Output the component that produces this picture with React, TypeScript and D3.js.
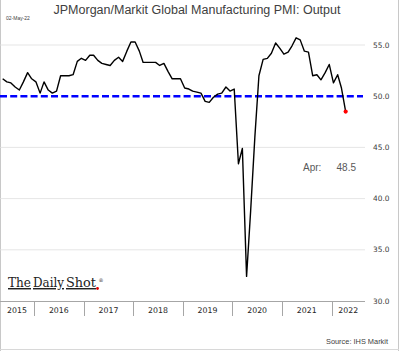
import React from 'react';
import * as d3 from 'd3';

// monthly PMI output readings, May 2015 .. Apr 2022
const startMonth = new Date(2015, 4, 1);
const pmiValues: number[] = [
  // 2015 (May-Dec)
  51.7, 51.4, 51.3, 50.9, 50.6, 51.4, 52.3, 51.7,
  // 2016
  51.4, 50.3, 51.4, 50.6, 50.3, 50.5, 52.0, 52.0, 52.0, 52.1, 53.4, 53.7,
  // 2017
  53.5, 54.0, 54.0, 53.5, 53.2, 53.1, 53.0, 53.5, 53.8, 53.4, 54.4, 55.3,
  // 2018
  55.3, 54.4, 53.3, 53.3, 53.3, 53.3, 53.0, 53.2, 52.4, 51.7, 51.7, 51.7,
  // 2019
  50.8, 50.7, 50.5, 50.4, 50.3, 49.5, 49.4, 49.9, 50.2, 50.3, 50.9, 50.5,
  // 2020
  50.7, 43.4, 44.9, 32.4, 38.8, 46.0, 52.0, 53.6, 53.7, 54.2, 55.2, 54.7,
  // 2021
  54.1, 54.3, 54.9, 55.7, 55.5, 54.4, 54.3, 52.0, 52.1, 51.6, 52.3, 53.1,
  // 2022
  51.3, 52.1, 50.8, 48.5,
];
const yTicks = [30, 35, 40, 45, 50, 55];
const gridTicks = [35, 40, 45, 55];
const years = [2015, 2016, 2017, 2018, 2019, 2020, 2021, 2022];
const threshold = 50;
const lastLabel = 'Apr:';

const W = 399;
const H = 351;
const plotLeft = 0;
const plotRight = 365;

const App: React.FC = () => {
  const months = pmiValues.map((_, i) => d3.timeMonth.offset(startMonth, i));
  const data = months.map((m, i) => ({ date: new Date(m.getFullYear(), m.getMonth(), 15), value: pmiValues[i] }));

  const x = d3.scaleTime()
    .domain([new Date(2016, 0, 1), new Date(2021, 0, 1)])
    .range([34, 282]);
  const y = d3.scaleLinear().domain([30, 55]).range([301, 45]);

  const line = d3.line<{ date: Date; value: number }>()
    .x(d => x(d.date))
    .y(d => y(d.value));

  const last = data[data.length - 1];
  const yearEdges = years.map(yr => Math.max(plotLeft, x(new Date(yr, 0, 1))));
  const yearEnds = years.map(yr => Math.min(plotRight, x(new Date(yr + 1, 0, 1))));

  const grey = '#404040';

  return (
    <div style={{ position: 'absolute', left: 0, top: 0 }}>
      <svg width={W} height={H} style={{ display: 'block', background: '#fff' }}>
        {/* frame */}
        <line x1={0.5} x2={0.5} y1={0} y2={H} stroke="#c8c8c8" />
        <line x1={W - 0.5} x2={W - 0.5} y1={0} y2={H} stroke="#c8c8c8" />
        <line x1={0} x2={W} y1={H - 1.5} y2={H - 1.5} stroke="#d8d8d8" />

        <text x={6} y={19.5} fontFamily="Liberation Sans, sans-serif" fontSize={5} fill={grey}>02-May-22</text>
        <text x={197} y={13.5} textAnchor="middle" fontFamily="Liberation Sans, sans-serif" fontSize={12.5} fill={grey}>
          JPMorgan/Markit Global Manufacturing PMI: Output
        </text>

        {/* gridlines */}
        {gridTicks.map(t => (
          <line key={t} x1={plotLeft} x2={plotRight} y1={y(t)} y2={y(t)} stroke="#dedede" strokeWidth={0.8} />
        ))}

        {/* right axis labels */}
        {yTicks.map(t => (
          <text key={t} x={373} y={y(t) + 2.5} fontFamily="DejaVu Sans, sans-serif" fontSize={7.4} fill={grey}>
            {t.toFixed(1)}
          </text>
        ))}

        {/* 50 threshold */}
        <line x1={plotLeft} x2={plotRight - 2} y1={y(threshold)} y2={y(threshold)}
          stroke="#0000ff" strokeWidth={2.6} strokeDasharray="7,3.2" />

        <path d={line(data) || ''} fill="none" stroke="#000" strokeWidth={1.4} strokeLinejoin="round" />
        <circle cx={x(last.date)} cy={y(last.value)} r={2.1} fill="#ff0000" />

        <text x={303} y={171} fontFamily="Liberation Sans, sans-serif" fontSize={10} fill="#595959">{lastLabel}</text>
        <text x={356} y={171} textAnchor="end" fontFamily="Liberation Sans, sans-serif" fontSize={10} fill="#595959">
          {last.value.toFixed(1)}
        </text>

        {/* x axis */}
        <line x1={0} x2={plotRight} y1={301.5} y2={301.5} stroke="#a6a6a6" strokeWidth={1} />
        {years.slice(1).map((yr, i) => (
          <line key={yr} x1={Math.round(yearEdges[i + 1]) + 0.5} x2={Math.round(yearEdges[i + 1]) + 0.5}
            y1={301.5} y2={316} stroke="#a6a6a6" strokeWidth={1} />
        ))}
        {years.map((yr, i) => (
          <text key={yr} x={(yearEdges[i] + yearEnds[i]) / 2} y={313} textAnchor="middle"
            fontFamily="DejaVu Sans, sans-serif" fontSize={7.8} fill="#262626">
            {yr}
          </text>
        ))}

        {/* logo */}
        <g fontFamily="DejaVu Serif, serif" fontSize={12.5} fill="#222" textDecoration="underline">
          <text x={8} y={287} textDecoration="underline" textLength={23} lengthAdjust="spacingAndGlyphs">The</text>
          <text x={33} y={287} textDecoration="underline" textLength={31} lengthAdjust="spacingAndGlyphs">Daily</text>
          <text x={66} y={287} textDecoration="underline" textLength={30} lengthAdjust="spacingAndGlyphs">Shot</text>
        </g>
        <circle cx={97.5} cy={288.5} r={1.4} fill="#e00000" />
        <text x={98.5} y={282} fontFamily="DejaVu Serif, serif" fontSize={5} fill="#222">®</text>

        <text x={388} y={344} textAnchor="end" fontFamily="Liberation Sans, sans-serif" fontSize={7.4} fill={grey}>
          Source: IHS Markit
        </text>
      </svg>
    </div>
  );
};

export default App;
